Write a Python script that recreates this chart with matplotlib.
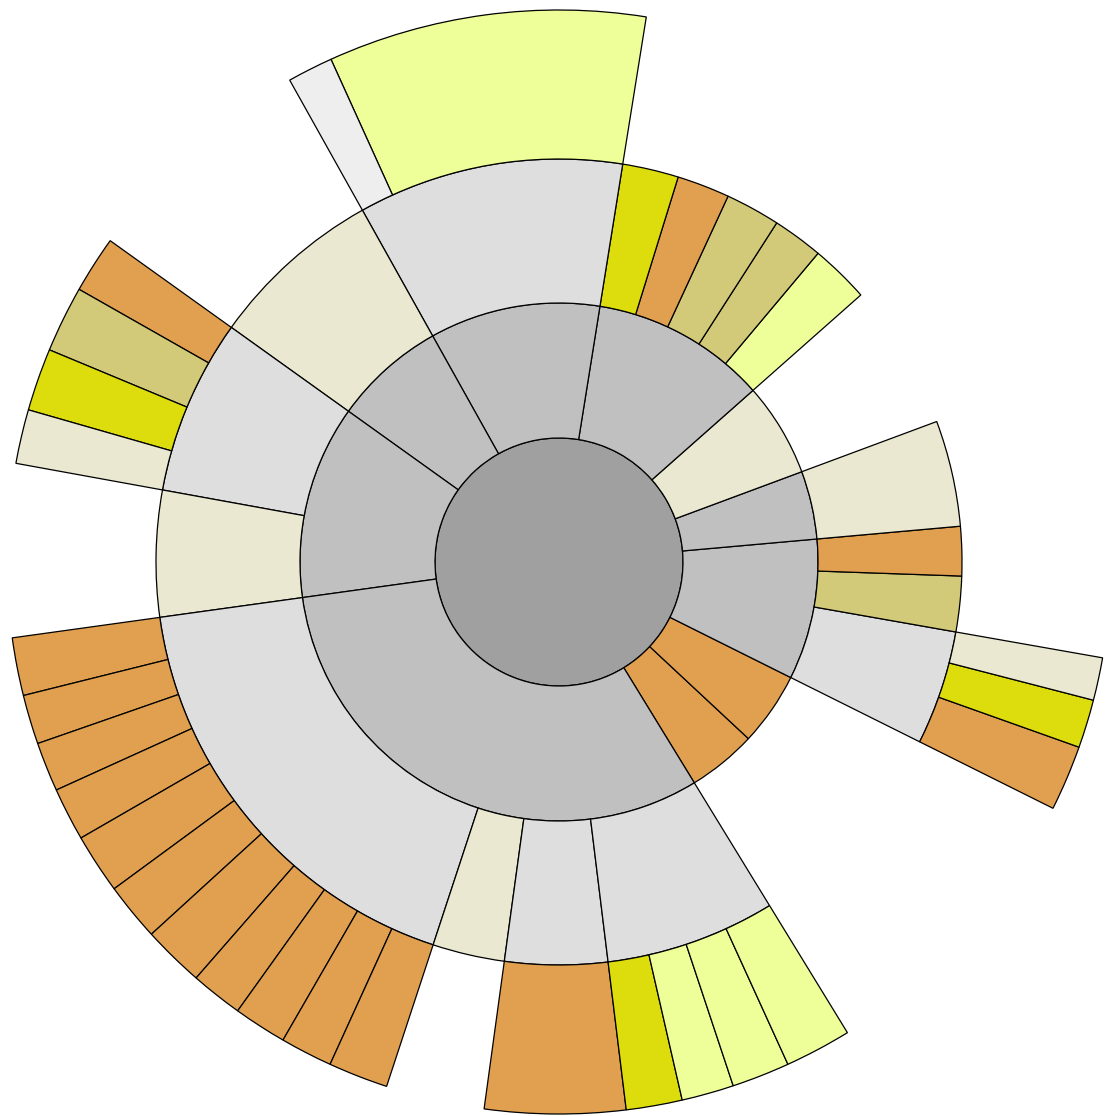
import matplotlib
matplotlib.use("Agg")
import matplotlib.pyplot as plt
from matplotlib.patches import Wedge, Circle

# sunburst: each ring is a list of angular sizes (degrees, counter-clockwise)
# and a matching list of colour keys; None = empty slot (parent is a leaf)
start_angle = -58.5

ring2_sizes = [15.5, 16.5, 31.6, 15.3, 21.1, 39.4, 38.3, 25.2, 43.5, 113.6]
ring2_colors = ["orange", "orange", "gray", "gray", "beige",
                "gray", "gray", "gray", "gray", "gray"]

ring3_sizes = [32.0, 16.5, 8.0, 7.1, 15.3, 21.1,
               8.5, 7.3, 7.9, 7.6, 8.1,
               38.3, 25.2, 25.3, 18.2,
               63.9, 10.4, 14.8, 24.5]
ring3_colors = [None, "light", "khaki", "orange", "beige", None,
                "lightyellow", "khaki", "khaki", "orange", "yellow",
                "light", "beige", "light", "beige",
                "light", "beige", "light", "light"]

ring4_sizes = [32.0, 6.9, 5.1, 4.5, 90.9,
               33.5, 4.8, 25.2,
               6.0, 7.0, 6.6, 5.7, 18.2,
               6.1, 5.2, 5.2, 5.6, 6.3, 6.1, 6.5, 5.5, 5.6, 5.5, 6.3,
               10.4, 14.8,
               5.9, 5.5, 6.1, 7.0]
ring4_colors = [None, "orange", "yellow", "beige", None,
                "lightyellow", "verylight", None,
                "orange", "khaki", "yellow", "beige", None,
                "orange", "orange", "orange", "orange", "orange", "orange",
                "orange", "orange", "orange", "orange", "orange",
                None, "orange",
                "yellow", "lightyellow", "lightyellow", "lightyellow"]

palette = {
    "center": "#A0A0A0",
    "gray": "#C0C0C0",
    "light": "#DEDEDE",
    "verylight": "#EEEEEE",
    "beige": "#EAE8D0",
    "orange": "#E0A050",
    "khaki": "#D2CA78",
    "yellow": "#DDDD0E",
    "lightyellow": "#EEFF99",
}

radii = [124, 259, 403, 552]
cx, cy = 559, 1116 - 562


def draw_ring(ax, sizes, colors, r_in, r_out):
    theta = start_angle
    for size, key in zip(sizes, colors):
        if key is not None:
            ax.add_patch(Wedge((cx, cy), r_out, theta, theta + size,
                               width=r_out - r_in, facecolor=palette[key],
                               edgecolor="black", linewidth=0.9))
        theta += size


fig = plt.figure(figsize=(11.06, 11.16), dpi=100)
ax = fig.add_axes([0, 0, 1, 1])
ax.set_xlim(0, 1106)
ax.set_ylim(0, 1116)
ax.axis("off")

ax.add_patch(Circle((cx, cy), radii[0], facecolor=palette["center"],
                    edgecolor="black", linewidth=0.9))
draw_ring(ax, ring2_sizes, ring2_colors, radii[0], radii[1])
draw_ring(ax, ring3_sizes, ring3_colors, radii[1], radii[2])
draw_ring(ax, ring4_sizes, ring4_colors, radii[2], radii[3])

fig.savefig("out.png", dpi=100, facecolor="white")
